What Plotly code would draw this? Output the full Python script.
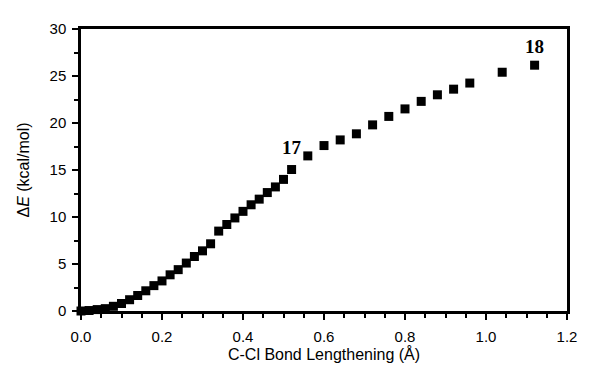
import plotly.graph_objects as go

bond_lengthening = [0.00, 0.02, 0.04, 0.06, 0.08, 0.10, 0.12, 0.14, 0.16, 0.18, 0.20,
                    0.22, 0.24, 0.26, 0.28, 0.30, 0.32, 0.34, 0.36, 0.38, 0.40, 0.42,
                    0.44, 0.46, 0.48, 0.50, 0.52, 0.56, 0.60, 0.64, 0.68, 0.72, 0.76,
                    0.80, 0.84, 0.88, 0.92, 0.96, 1.04, 1.12]
delta_e = [0.0, 0.05, 0.15, 0.25, 0.5, 0.8, 1.2, 1.65, 2.15, 2.7, 3.2,
           3.85, 4.4, 5.1, 5.8, 6.4, 7.15, 8.5, 9.2, 9.9, 10.6, 11.3,
           11.9, 12.6, 13.2, 14.0, 15.05, 16.5, 17.6, 18.2, 18.85, 19.8, 20.7,
           21.5, 22.3, 23.0, 23.6, 24.25, 25.4, 26.15]
label_x = [0.52, 1.12]
label_y = [15.05, 26.15]
label_text = ["17", "18"]
label_shift = [22, 19]

fig = go.Figure()
fig.add_trace(go.Scatter(
    x=bond_lengthening, y=delta_e, mode="markers",
    marker=dict(symbol="square", size=9, color="black"),
    cliponaxis=False, showlegend=False))

for lx, ly, lt, sh in zip(label_x, label_y, label_text, label_shift):
    fig.add_annotation(x=lx, y=ly, text="<b>" + lt + "</b>", showarrow=False,
                       xanchor="center", yanchor="middle", yshift=sh,
                       font=dict(family="Liberation Serif", size=19, color="black"))

axis_common = dict(showline=True, linewidth=2.5, linecolor="black", mirror=True,
                   showgrid=False, zeroline=False, ticks="outside", ticklen=6,
                   tickwidth=2, tickcolor="black",
                   tickfont=dict(family="Liberation Sans", size=15, color="black"))

fig.update_xaxes(range=[0, 1.2], tickvals=[0, 0.2, 0.4, 0.6, 0.8, 1.0, 1.2],
                 ticktext=["0.0", "0.2", "0.4", "0.6", "0.8", "1.0", "1.2"],
                 ticklabelstandoff=4,
                 minor=dict(dtick=0.05, ticks="outside", ticklen=4, tickwidth=2, tickcolor="black"),
                 title=dict(text="C-Cl Bond Lengthening (Å)", standoff=6,
                            font=dict(family="Liberation Sans", size=16, color="black")),
                 **axis_common)
fig.update_yaxes(range=[0, 30], dtick=5, ticklabelstandoff=3,
                 minor=dict(dtick=2.5, ticks="outside", ticklen=4, tickwidth=2, tickcolor="black"),
                 title=dict(text="Δ<i>E</i> (kcal/mol)", standoff=16,
                            font=dict(family="Liberation Sans", size=16, color="black")),
                 **axis_common)

# page body has an 8px default margin; size the figure so the plot area lands
# at the reference position (left 81, right 574, top 24, bottom 311)
fig.update_layout(width=581, height=375, margin=dict(l=73, r=15, t=16, b=72),
                  plot_bgcolor="white", paper_bgcolor="white")

fig.write_html("out.html")
